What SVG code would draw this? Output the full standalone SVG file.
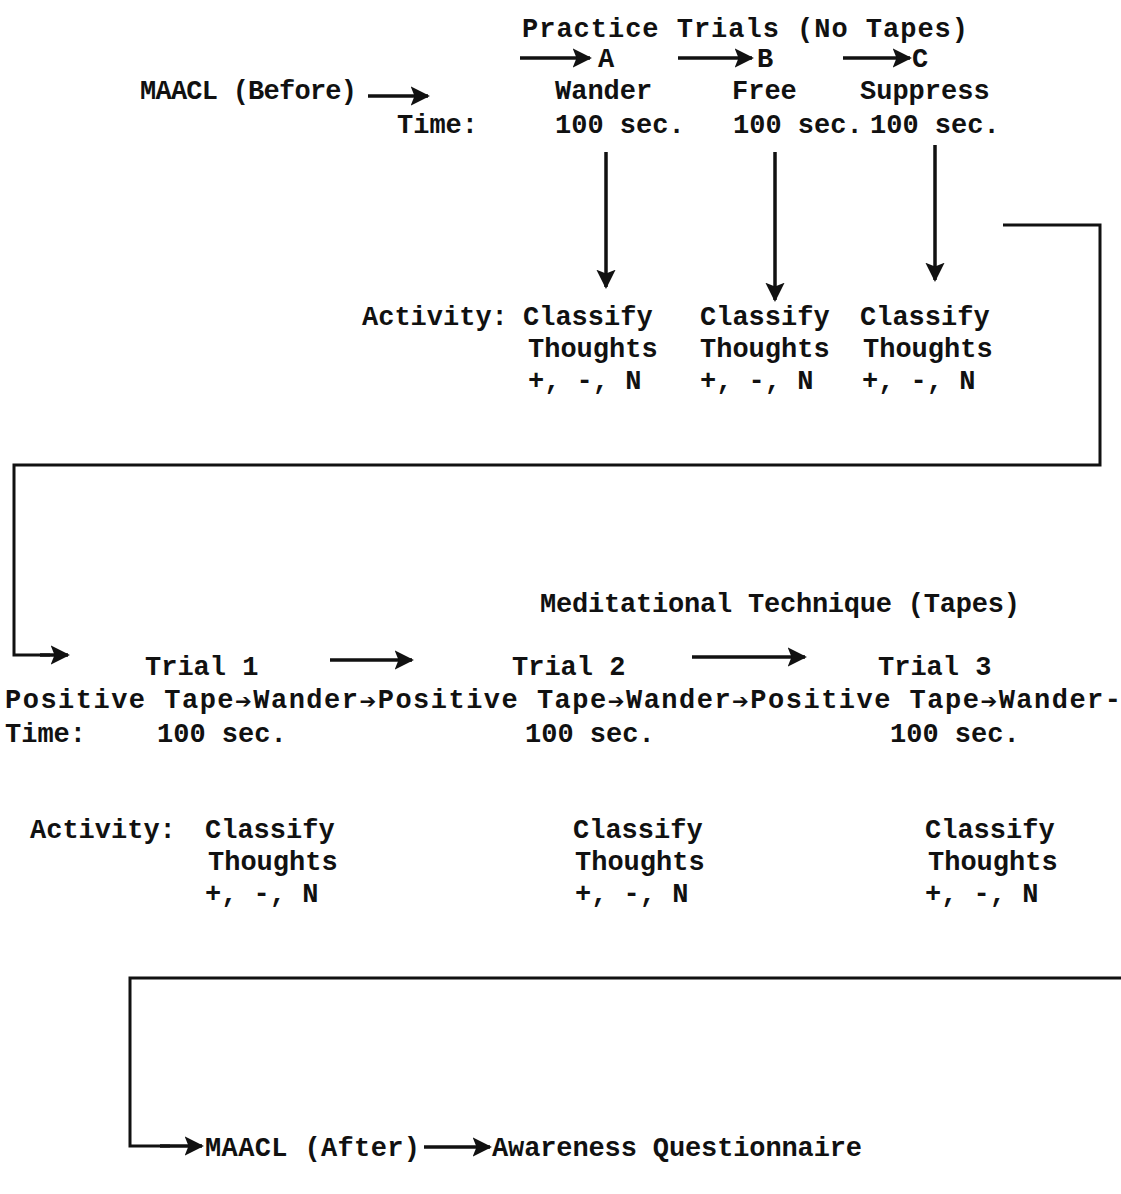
<svg xmlns="http://www.w3.org/2000/svg" width="1121" height="1194" viewBox="0 0 1121 1194">
<defs>
<style>
text{font-family:"Liberation Mono","Courier New",monospace;font-size:27px;font-weight:bold;fill:#111;}
.sa{font-family:"DejaVu Sans",sans-serif;font-size:20px;}
.ln{stroke:#111;stroke-width:3;fill:none;}
.ar{stroke:#111;stroke-width:3.5;fill:none;marker-end:url(#ah);}
.vr{stroke:#111;stroke-width:3.5;fill:none;marker-end:url(#ah);}
</style>
<marker id="ah" viewBox="0 0 10 10" refX="9" refY="5" markerWidth="5.5" markerHeight="5.5" markerUnits="strokeWidth" orient="auto">
<path d="M0,0 L10,5 L0,10 L2,5 Z" fill="#111"/>
</marker>
</defs>
<rect width="1121" height="1194" fill="#fff"/>

<g id="connectors">
<line class="ar" x1="520" y1="58" x2="590" y2="58"/>
<line class="ar" x1="678" y1="58" x2="752" y2="58"/>
<line class="ar" x1="843" y1="58" x2="910" y2="58"/>
<line class="ar" x1="368" y1="96" x2="428" y2="96"/>
<line class="vr" x1="606" y1="152" x2="606" y2="287"/>
<line class="vr" x1="775" y1="152" x2="775" y2="300"/>
<line class="vr" x1="935" y1="145" x2="935" y2="280"/>
<polyline class="ln" points="1003,225 1100,225 1100,465 14,465 14,655 50,655"/>
<line class="ar" x1="40" y1="655" x2="68" y2="655"/>
<line class="ar" x1="330" y1="660" x2="412" y2="660"/>
<line class="ar" x1="692" y1="657" x2="805" y2="657"/>
<polyline class="ln" points="1121,978 130,978 130,1146 170,1146"/>
<line class="ar" x1="160" y1="1146" x2="202" y2="1146"/>
<line class="ar" x1="424" y1="1147" x2="490" y2="1147"/>
</g>

<g id="practice-title"><text x="522" y="37" textLength="446">Practice Trials (No Tapes)</text></g>
<g id="label-A"><text x="598" y="67">A</text></g>
<g id="label-B"><text x="757" y="67">B</text></g>
<g id="label-C"><text x="912" y="67">C</text></g>
<g id="maacl-before"><text x="140" y="99" textLength="217">MAACL (Before)</text></g>
<g id="wander"><text x="555" y="99">Wander</text><text x="555" y="133">100 sec.</text></g>
<g id="free"><text x="732" y="99">Free</text><text x="733" y="133">100 sec.</text></g>
<g id="suppress"><text x="860" y="99">Suppress</text><text x="870" y="133">100 sec.</text></g>
<g id="time-top"><text x="397" y="133">Time:</text></g>

<g id="activity-top"><text x="362" y="325">Activity:</text></g>
<g id="classify-A"><text x="523" y="325">Classify</text><text x="528" y="357">Thoughts</text><text x="528" y="389">+, -, N</text></g>
<g id="classify-B"><text x="700" y="325">Classify</text><text x="700" y="357">Thoughts</text><text x="700" y="389">+, -, N</text></g>
<g id="classify-C"><text x="860" y="325">Classify</text><text x="863" y="357">Thoughts</text><text x="862" y="389">+, -, N</text></g>

<g id="meditational-title"><text x="540" y="612" textLength="480">Meditational Technique (Tapes)</text></g>
<g id="trial-1"><text x="145" y="675">Trial 1</text></g>
<g id="trial-2"><text x="512" y="675">Trial 2</text></g>
<g id="trial-3"><text x="878" y="675">Trial 3</text></g>
<g id="sequence"><text x="5" y="708" textLength="1116">Positive Tape<tspan class="sa">➔</tspan>Wander<tspan class="sa">➔</tspan>Positive Tape<tspan class="sa">➔</tspan>Wander<tspan class="sa">➔</tspan>Positive Tape<tspan class="sa">➔</tspan>Wander-</text></g>
<g id="time-mid"><text x="5" y="742">Time:</text><text x="157" y="742">100 sec.</text><text x="525" y="742">100 sec.</text><text x="890" y="742">100 sec.</text></g>

<g id="activity-mid"><text x="30" y="838">Activity:</text></g>
<g id="classify-1"><text x="205" y="838">Classify</text><text x="208" y="870">Thoughts</text><text x="205" y="902">+, -, N</text></g>
<g id="classify-2"><text x="573" y="838">Classify</text><text x="575" y="870">Thoughts</text><text x="575" y="902">+, -, N</text></g>
<g id="classify-3"><text x="925" y="838">Classify</text><text x="928" y="870">Thoughts</text><text x="925" y="902">+, -, N</text></g>

<g id="maacl-after"><text x="205" y="1156" textLength="215">MAACL (After)</text></g>
<g id="awareness"><text x="492" y="1156" textLength="370">Awareness Questionnaire</text></g>
</svg>
